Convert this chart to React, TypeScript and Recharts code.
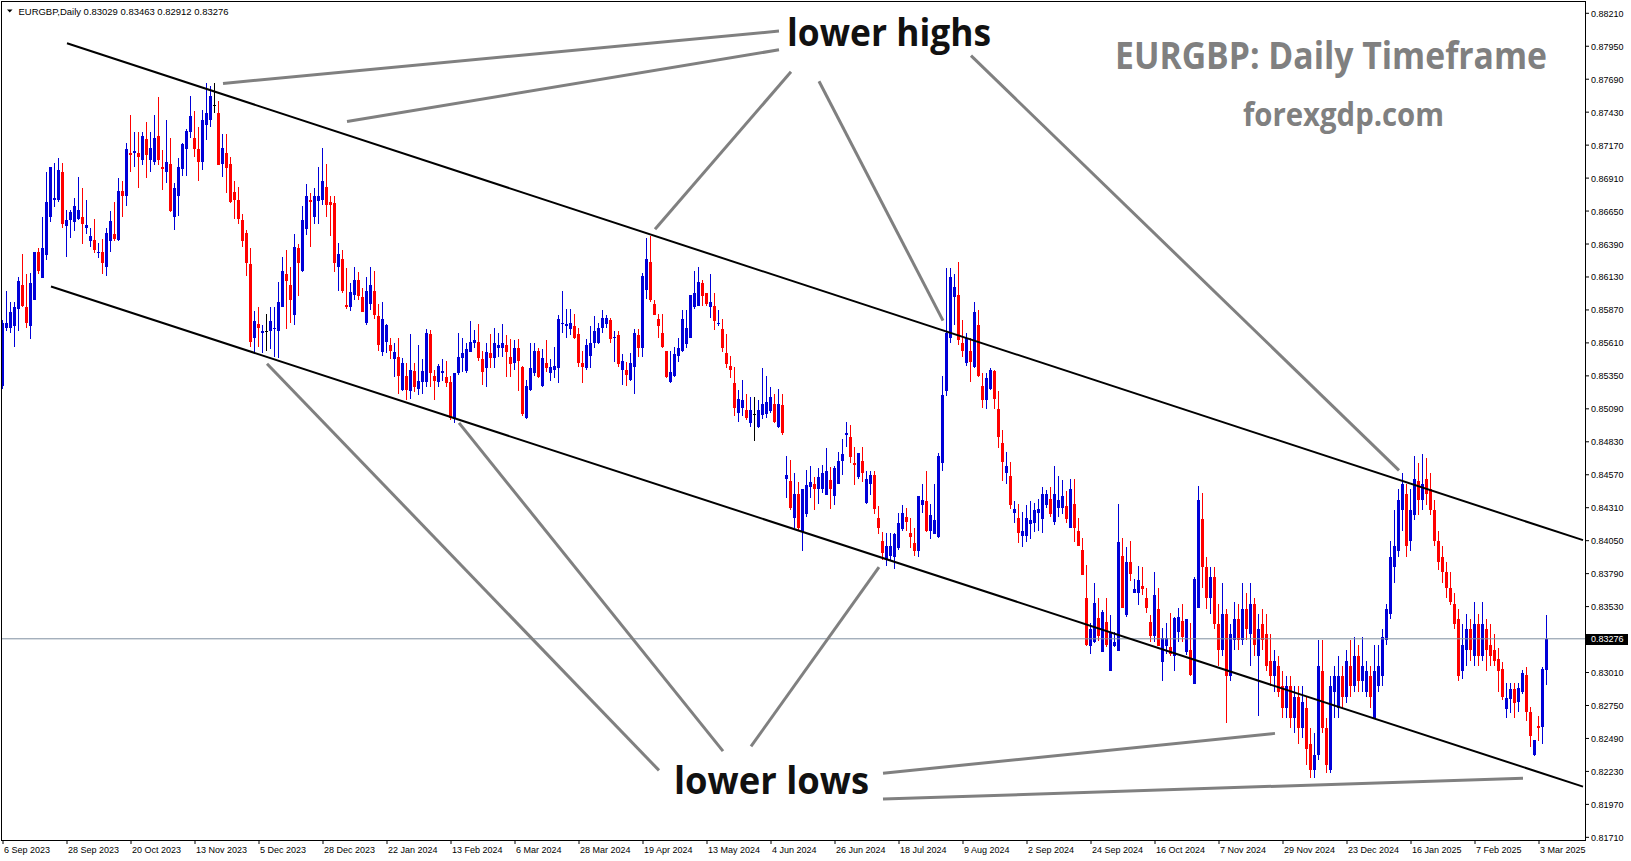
import { ComposedChart, Bar, XAxis, YAxis, ReferenceLine } from "recharts";

// EURGBP daily candles, 6 Sep 2023 .. 5 Mar 2025
const opens = [
  0.8527, 0.8573, 0.8573, 0.8574, 0.8588, 0.8607, 0.8589, 0.8574, 0.8595, 0.8633,
  0.8612, 0.8630, 0.8660, 0.8674, 0.8674, 0.8696, 0.8653, 0.8658, 0.8656, 0.8659,
  0.8660, 0.8652, 0.8641, 0.8642, 0.8632, 0.8633, 0.8621, 0.8641, 0.8647, 0.8642,
  0.8681, 0.8677, 0.8711, 0.8711, 0.8711, 0.8705, 0.8722, 0.8705, 0.8704, 0.8724,
  0.8700, 0.8696, 0.8702, 0.8660, 0.8677, 0.8698, 0.8714, 0.8727, 0.8723, 0.8714,
  0.8704, 0.8733, 0.8737, 0.8749, 0.8742, 0.8702, 0.8711, 0.8702, 0.8680, 0.8674,
  0.8658, 0.8648, 0.8623, 0.8565, 0.8576, 0.8569, 0.8570, 0.8570, 0.8572, 0.8570,
  0.8589, 0.8615, 0.8607, 0.8583, 0.8636, 0.8618, 0.8651, 0.8674, 0.8660, 0.8673,
  0.8674, 0.8684, 0.8672, 0.8671, 0.8621, 0.8627, 0.8591, 0.8589, 0.8599, 0.8611,
  0.8597, 0.8577, 0.8592, 0.8602, 0.8582, 0.8554, 0.8562, 0.8559, 0.8548, 0.8550,
  0.8524, 0.8535, 0.8523, 0.8539, 0.8525, 0.8530, 0.8530, 0.8568, 0.8535, 0.8530,
  0.8537, 0.8534, 0.8530, 0.8501, 0.8537, 0.8549, 0.8539, 0.8554, 0.8561, 0.8562,
  0.8548, 0.8541, 0.8553, 0.8549, 0.8557, 0.8557, 0.8559, 0.8550, 0.8545, 0.8557,
  0.8542, 0.8502, 0.8524, 0.8537, 0.8555, 0.8527, 0.8545, 0.8537, 0.8540, 0.8541,
  0.8576, 0.8574, 0.8572, 0.8574, 0.8568, 0.8545, 0.8541, 0.8551, 0.8561, 0.8561,
  0.8573, 0.8576, 0.8579, 0.8565, 0.8567, 0.8540, 0.8540, 0.8532, 0.8542, 0.8567,
  0.8557, 0.8603, 0.8625, 0.8592, 0.8580, 0.8569, 0.8555, 0.8530, 0.8535, 0.8551,
  0.8555, 0.8560, 0.8565, 0.8589, 0.8590, 0.8608, 0.8600, 0.8589, 0.8590, 0.8576,
  0.8572, 0.8553, 0.8543, 0.8529, 0.8506, 0.8510, 0.8508, 0.8498, 0.8505, 0.8495,
  0.8504, 0.8505, 0.8507, 0.8513, 0.8495, 0.8512, 0.8454, 0.8452, 0.8423, 0.8442,
  0.8412, 0.8426, 0.8447, 0.8450, 0.8446, 0.8446, 0.8441, 0.8453, 0.8440, 0.8450,
  0.8468, 0.8488, 0.8487, 0.8466, 0.8455, 0.8468, 0.8435, 0.8450, 0.8457, 0.8423,
  0.8405, 0.8390, 0.8393, 0.8392, 0.8399, 0.8414, 0.8424, 0.8411, 0.8403, 0.8397,
  0.8433, 0.8436, 0.8413, 0.8410, 0.8408, 0.8466, 0.8523, 0.8565, 0.8597, 0.8599,
  0.8561, 0.8545, 0.8555, 0.8542, 0.8575, 0.8527, 0.8516, 0.8525, 0.8539, 0.8509,
  0.8482, 0.8458, 0.8456, 0.8427, 0.8423, 0.8409, 0.8409, 0.8418, 0.8419, 0.8427,
  0.8422, 0.8433, 0.8438, 0.8420, 0.8431, 0.8431, 0.8432, 0.8415, 0.8434, 0.8413,
  0.8398, 0.8360, 0.8322, 0.8325, 0.8344, 0.8317, 0.8341, 0.8302, 0.8322, 0.8318,
  0.8393, 0.8346, 0.8388, 0.8364, 0.8364, 0.8369, 0.8360, 0.8341, 0.8330, 0.8351,
  0.8309, 0.8322, 0.8321, 0.8314, 0.8333, 0.8342, 0.8317, 0.8319, 0.8292, 0.8352,
  0.8422, 0.8384, 0.8360, 0.8376, 0.8339, 0.8319, 0.8347, 0.8298, 0.8327, 0.8343,
  0.8327, 0.8351, 0.8331, 0.8355, 0.8314, 0.8339, 0.8331, 0.8310, 0.8298, 0.8306,
  0.8290, 0.8273, 0.8290, 0.8265, 0.8282, 0.8257, 0.8273, 0.8245, 0.8224, 0.8236,
  0.8302, 0.8257, 0.8224, 0.8286, 0.8273, 0.8298, 0.8282, 0.8306, 0.8290, 0.8314,
  0.8294, 0.8286, 0.8298, 0.8265, 0.8290, 0.8298, 0.8327, 0.8347, 0.8384, 0.8397,
  0.8429, 0.8442, 0.8405, 0.8425, 0.8452, 0.8437, 0.8454, 0.8446, 0.8429, 0.8405,
  0.8392, 0.8380, 0.8368, 0.8355, 0.8343, 0.8302, 0.8319, 0.8335, 0.8314, 0.8339,
  0.8314, 0.8335, 0.8323, 0.8319, 0.8312, 0.8304, 0.8272, 0.8280, 0.8288, 0.8278,
  0.8286, 0.8299, 0.8270, 0.8236, 0.8259, 0.8258, 0.83029,
];

const highs = [
  0.8579, 0.8602, 0.8593, 0.8593, 0.8613, 0.8631, 0.8615, 0.8616, 0.8633, 0.8636,
  0.8660, 0.8696, 0.8700, 0.8703, 0.8707, 0.8703, 0.8666, 0.8666, 0.8675, 0.8692,
  0.8683, 0.8674, 0.8652, 0.8659, 0.8640, 0.8643, 0.8652, 0.8665, 0.8672, 0.8691,
  0.8689, 0.8719, 0.8741, 0.8727, 0.8727, 0.8727, 0.8735, 0.8727, 0.8741, 0.8755,
  0.8713, 0.8737, 0.8723, 0.8687, 0.8707, 0.8719, 0.8730, 0.8756, 0.8744, 0.8731,
  0.8745, 0.8766, 0.8764, 0.8766, 0.8752, 0.8726, 0.8726, 0.8708, 0.8689, 0.8684,
  0.8663, 0.8650, 0.8636, 0.8586, 0.8589, 0.8575, 0.8584, 0.8589, 0.8589, 0.8609,
  0.8629, 0.8634, 0.8621, 0.8647, 0.8639, 0.8669, 0.8686, 0.8679, 0.8683, 0.8700,
  0.8715, 0.8702, 0.8677, 0.8677, 0.8640, 0.8634, 0.8620, 0.8608, 0.8621, 0.8617,
  0.8604, 0.8613, 0.8621, 0.8618, 0.8592, 0.8593, 0.8576, 0.8565, 0.8561, 0.8565,
  0.8549, 0.8545, 0.8568, 0.8545, 0.8559, 0.8548, 0.8572, 0.8571, 0.8540, 0.8544,
  0.8548, 0.8547, 0.8535, 0.8537, 0.8569, 0.8565, 0.8561, 0.8578, 0.8571, 0.8576,
  0.8555, 0.8561, 0.8568, 0.8573, 0.8569, 0.8576, 0.8567, 0.8564, 0.8563, 0.8564,
  0.8543, 0.8532, 0.8561, 0.8561, 0.8557, 0.8556, 0.8563, 0.8548, 0.8558, 0.8583,
  0.8602, 0.8588, 0.8588, 0.8584, 0.8573, 0.8555, 0.8564, 0.8574, 0.8582, 0.8577,
  0.8587, 0.8583, 0.8581, 0.8570, 0.8570, 0.8552, 0.8546, 0.8553, 0.8572, 0.8572,
  0.8616, 0.8644, 0.8645, 0.8595, 0.8584, 0.8584, 0.8555, 0.8555, 0.8558, 0.8565,
  0.8587, 0.8587, 0.8599, 0.8618, 0.8621, 0.8611, 0.8600, 0.8615, 0.8600, 0.8587,
  0.8580, 0.8568, 0.8551, 0.8542, 0.8524, 0.8532, 0.8521, 0.8518, 0.8518, 0.8516,
  0.8541, 0.8535, 0.8526, 0.8521, 0.8525, 0.8521, 0.8472, 0.8469, 0.8458, 0.8451,
  0.8446, 0.8461, 0.8464, 0.8455, 0.8462, 0.8465, 0.8478, 0.8463, 0.8464, 0.8475,
  0.8485, 0.8499, 0.8496, 0.8479, 0.8474, 0.8479, 0.8460, 0.8460, 0.8460, 0.8432,
  0.8412, 0.8411, 0.8411, 0.8411, 0.8427, 0.8433, 0.8431, 0.8423, 0.8415, 0.8440,
  0.8450, 0.8460, 0.8434, 0.8450, 0.8474, 0.8535, 0.8620, 0.8620, 0.8615, 0.8625,
  0.8579, 0.8569, 0.8565, 0.8593, 0.8587, 0.8537, 0.8537, 0.8541, 0.8540, 0.8523,
  0.8492, 0.8475, 0.8467, 0.8436, 0.8434, 0.8428, 0.8433, 0.8436, 0.8435, 0.8438,
  0.8447, 0.8445, 0.8447, 0.8464, 0.8456, 0.8453, 0.8444, 0.8454, 0.8454, 0.8423,
  0.8407, 0.8386, 0.8340, 0.8372, 0.8360, 0.8350, 0.8360, 0.8346, 0.8333, 0.8434,
  0.8407, 0.8400, 0.8405, 0.8375, 0.8385, 0.8384, 0.8368, 0.8346, 0.8380, 0.8368,
  0.8336, 0.8340, 0.8348, 0.8345, 0.8352, 0.8355, 0.8343, 0.8340, 0.8376, 0.8448,
  0.8443, 0.8392, 0.8384, 0.8384, 0.8355, 0.8372, 0.8351, 0.8339, 0.8357, 0.8355,
  0.8372, 0.8364, 0.8372, 0.8360, 0.8347, 0.8351, 0.8347, 0.8331, 0.8319, 0.8314,
  0.8302, 0.8298, 0.8298, 0.8290, 0.8290, 0.8290, 0.8282, 0.8257, 0.8253, 0.8327,
  0.8327, 0.8265, 0.8298, 0.8306, 0.8314, 0.8306, 0.8319, 0.8327, 0.8329, 0.8323,
  0.8329, 0.8310, 0.8306, 0.8323, 0.8323, 0.8335, 0.8355, 0.8405, 0.8429, 0.8446,
  0.8458, 0.8450, 0.8446, 0.8472, 0.8466, 0.8473, 0.8470, 0.8458, 0.8437, 0.8413,
  0.8401, 0.8388, 0.8380, 0.8364, 0.8351, 0.8339, 0.8347, 0.8343, 0.8357, 0.8347,
  0.8357, 0.8343, 0.8339, 0.8331, 0.8320, 0.8309, 0.8293, 0.8293, 0.8293, 0.8293,
  0.8303, 0.8305, 0.8274, 0.8248, 0.8267, 0.8305, 0.83463,
];

const lows = [
  0.8525, 0.8570, 0.8569, 0.8558, 0.8570, 0.8589, 0.8573, 0.8564, 0.8595, 0.8615,
  0.8612, 0.8626, 0.8656, 0.8668, 0.8672, 0.8652, 0.8629, 0.8644, 0.8649, 0.8658,
  0.8639, 0.8647, 0.8637, 0.8632, 0.8628, 0.8615, 0.8614, 0.8633, 0.8641, 0.8641,
  0.8660, 0.8669, 0.8696, 0.8700, 0.8683, 0.8701, 0.8691, 0.8696, 0.8701, 0.8701,
  0.8682, 0.8687, 0.8664, 0.8650, 0.8661, 0.8693, 0.8693, 0.8723, 0.8708, 0.8689,
  0.8697, 0.8721, 0.8731, 0.8742, 0.8701, 0.8692, 0.8679, 0.8671, 0.8659, 0.8655,
  0.8637, 0.8614, 0.8558, 0.8554, 0.8558, 0.8553, 0.8555, 0.8556, 0.8550, 0.8549,
  0.8589, 0.8572, 0.8577, 0.8575, 0.8598, 0.8617, 0.8646, 0.8637, 0.8655, 0.8655,
  0.8670, 0.8660, 0.8645, 0.8617, 0.8602, 0.8600, 0.8588, 0.8586, 0.8595, 0.8595,
  0.8585, 0.8575, 0.8587, 0.8580, 0.8555, 0.8551, 0.8553, 0.8548, 0.8534, 0.8521,
  0.8523, 0.8516, 0.8517, 0.8522, 0.8520, 0.8521, 0.8526, 0.8526, 0.8516, 0.8526,
  0.8531, 0.8526, 0.8500, 0.8498, 0.8536, 0.8538, 0.8537, 0.8554, 0.8557, 0.8547,
  0.8528, 0.8526, 0.8541, 0.8541, 0.8550, 0.8550, 0.8534, 0.8534, 0.8540, 0.8523,
  0.8503, 0.8501, 0.8523, 0.8535, 0.8533, 0.8526, 0.8538, 0.8531, 0.8533, 0.8529,
  0.8569, 0.8565, 0.8567, 0.8564, 0.8542, 0.8529, 0.8540, 0.8541, 0.8557, 0.8560,
  0.8569, 0.8573, 0.8561, 0.8546, 0.8542, 0.8528, 0.8527, 0.8531, 0.8521, 0.8550,
  0.8550, 0.8596, 0.8593, 0.8583, 0.8565, 0.8557, 0.8533, 0.8529, 0.8534, 0.8546,
  0.8554, 0.8557, 0.8565, 0.8588, 0.8590, 0.8590, 0.8590, 0.8581, 0.8571, 0.8574,
  0.8554, 0.8541, 0.8533, 0.8503, 0.8499, 0.8503, 0.8500, 0.8495, 0.8484, 0.8494,
  0.8501, 0.8502, 0.8506, 0.8498, 0.8494, 0.8488, 0.8439, 0.8429, 0.8415, 0.8413,
  0.8397, 0.8424, 0.8439, 0.8429, 0.8434, 0.8443, 0.8441, 0.8430, 0.8433, 0.8450,
  0.8457, 0.8479, 0.8466, 0.8449, 0.8454, 0.8451, 0.8434, 0.8441, 0.8426, 0.8410,
  0.8390, 0.8385, 0.8389, 0.8383, 0.8398, 0.8413, 0.8413, 0.8399, 0.8393, 0.8392,
  0.8427, 0.8412, 0.8406, 0.8410, 0.8407, 0.8460, 0.8519, 0.8561, 0.8575, 0.8559,
  0.8550, 0.8543, 0.8530, 0.8541, 0.8534, 0.8510, 0.8509, 0.8524, 0.8509, 0.8478,
  0.8452, 0.8450, 0.8430, 0.8419, 0.8403, 0.8400, 0.8404, 0.8406, 0.8412, 0.8413,
  0.8411, 0.8431, 0.8424, 0.8417, 0.8424, 0.8426, 0.8419, 0.8415, 0.8404, 0.8401,
  0.8378, 0.8322, 0.8316, 0.8324, 0.8326, 0.8317, 0.8321, 0.8302, 0.8321, 0.8318,
  0.8352, 0.8345, 0.8373, 0.8364, 0.8354, 0.8362, 0.8348, 0.8325, 0.8325, 0.8322,
  0.8294, 0.8316, 0.8314, 0.8302, 0.8325, 0.8325, 0.8315, 0.8298, 0.8292, 0.8352,
  0.8368, 0.8351, 0.8347, 0.8335, 0.8306, 0.8314, 0.8261, 0.8294, 0.8319, 0.8319,
  0.8323, 0.8327, 0.8306, 0.8314, 0.8267, 0.8319, 0.8302, 0.8290, 0.8286, 0.8282,
  0.8265, 0.8265, 0.8257, 0.8253, 0.8245, 0.8249, 0.8228, 0.8218, 0.8218, 0.8232,
  0.8253, 0.8222, 0.8222, 0.8265, 0.8265, 0.8273, 0.8277, 0.8282, 0.8286, 0.8286,
  0.8286, 0.8282, 0.8273, 0.8264, 0.8286, 0.8290, 0.8323, 0.8343, 0.8372, 0.8392,
  0.8413, 0.8392, 0.8397, 0.8421, 0.8425, 0.8429, 0.8433, 0.8425, 0.8401, 0.8382,
  0.8372, 0.8360, 0.8354, 0.8335, 0.8294, 0.8296, 0.8306, 0.8310, 0.8306, 0.8306,
  0.8310, 0.8302, 0.8306, 0.8306, 0.8286, 0.8279, 0.8265, 0.8269, 0.8265, 0.8270,
  0.8284, 0.8263, 0.8242, 0.8235, 0.8247, 0.8245, 0.82912,
];

const closes = [
  0.8577, 0.8577, 0.8585, 0.8589, 0.8610, 0.8590, 0.8577, 0.8608, 0.8633, 0.8618,
  0.8636, 0.8672, 0.8700, 0.8675, 0.8697, 0.8655, 0.8658, 0.8664, 0.8669, 0.8666,
  0.8655, 0.8654, 0.8645, 0.8634, 0.8633, 0.8624, 0.8648, 0.8657, 0.8643, 0.8681,
  0.8677, 0.8714, 0.8709, 0.8712, 0.8708, 0.8724, 0.8709, 0.8715, 0.8723, 0.8705,
  0.8698, 0.8704, 0.8665, 0.8683, 0.8700, 0.8718, 0.8728, 0.8740, 0.8714, 0.8704,
  0.8737, 0.8742, 0.8756, 0.8749, 0.8701, 0.8715, 0.8699, 0.8672, 0.8674, 0.8659,
  0.8641, 0.8624, 0.8562, 0.8578, 0.8573, 0.8570, 0.8570, 0.8578, 0.8573, 0.8593,
  0.8618, 0.8610, 0.8595, 0.8637, 0.8624, 0.8658, 0.8677, 0.8672, 0.8677, 0.8677,
  0.8689, 0.8670, 0.8670, 0.8624, 0.8631, 0.8602, 0.8589, 0.8601, 0.8611, 0.8598,
  0.8585, 0.8602, 0.8607, 0.8583, 0.8559, 0.8580, 0.8575, 0.8555, 0.8554, 0.8535,
  0.8545, 0.8524, 0.8540, 0.8526, 0.8531, 0.8539, 0.8569, 0.8537, 0.8531, 0.8543,
  0.8539, 0.8529, 0.8502, 0.8537, 0.8550, 0.8553, 0.8556, 0.8562, 0.8563, 0.8549,
  0.8538, 0.8554, 0.8549, 0.8561, 0.8559, 0.8561, 0.8554, 0.8544, 0.8557, 0.8547,
  0.8505, 0.8527, 0.8541, 0.8555, 0.8534, 0.8549, 0.8541, 0.8542, 0.8543, 0.8580,
  0.8577, 0.8576, 0.8577, 0.8565, 0.8545, 0.8542, 0.8559, 0.8561, 0.8570, 0.8573,
  0.8581, 0.8581, 0.8564, 0.8566, 0.8544, 0.8547, 0.8536, 0.8545, 0.8569, 0.8557,
  0.8614, 0.8627, 0.8595, 0.8583, 0.8574, 0.8558, 0.8534, 0.8538, 0.8552, 0.8557,
  0.8580, 0.8573, 0.8599, 0.8600, 0.8609, 0.8598, 0.8592, 0.8593, 0.8578, 0.8577,
  0.8557, 0.8544, 0.8540, 0.8510, 0.8517, 0.8516, 0.8502, 0.8508, 0.8505, 0.8508,
  0.8513, 0.8514, 0.8518, 0.8499, 0.8513, 0.8490, 0.8457, 0.8431, 0.8442, 0.8415,
  0.8446, 0.8449, 0.8451, 0.8446, 0.8455, 0.8458, 0.8460, 0.8446, 0.8462, 0.8468,
  0.8473, 0.8490, 0.8471, 0.8465, 0.8474, 0.8458, 0.8454, 0.8457, 0.8430, 0.8415,
  0.8395, 0.8401, 0.8401, 0.8410, 0.8419, 0.8427, 0.8420, 0.8408, 0.8397, 0.8440,
  0.8437, 0.8413, 0.8425, 0.8421, 0.8472, 0.8520, 0.8569, 0.8613, 0.8605, 0.8563,
  0.8555, 0.8565, 0.8546, 0.8585, 0.8535, 0.8516, 0.8533, 0.8540, 0.8517, 0.8487,
  0.8467, 0.8464, 0.8433, 0.8430, 0.8411, 0.8413, 0.8423, 0.8421, 0.8429, 0.8430,
  0.8442, 0.8442, 0.8426, 0.8442, 0.8437, 0.8440, 0.8422, 0.8446, 0.8415, 0.8401,
  0.8378, 0.8323, 0.8335, 0.8356, 0.8330, 0.8349, 0.8323, 0.8333, 0.8325, 0.8404,
  0.8352, 0.8388, 0.8379, 0.8367, 0.8374, 0.8367, 0.8352, 0.8330, 0.8362, 0.8322,
  0.8328, 0.8328, 0.8316, 0.8344, 0.8345, 0.8329, 0.8343, 0.8299, 0.8375, 0.8437,
  0.8384, 0.8360, 0.8376, 0.8339, 0.8319, 0.8347, 0.8298, 0.8331, 0.8343, 0.8327,
  0.8351, 0.8335, 0.8355, 0.8323, 0.8335, 0.8327, 0.8306, 0.8298, 0.8310, 0.8286,
  0.8273, 0.8290, 0.8265, 0.8282, 0.8257, 0.8278, 0.8241, 0.8224, 0.8236, 0.8306,
  0.8257, 0.8228, 0.8290, 0.8298, 0.8298, 0.8282, 0.8310, 0.8290, 0.8314, 0.8294,
  0.8306, 0.8302, 0.8282, 0.8302, 0.8306, 0.8329, 0.8351, 0.8392, 0.8401, 0.8437,
  0.8450, 0.8401, 0.8429, 0.8454, 0.8437, 0.8450, 0.8442, 0.8429, 0.8405, 0.8388,
  0.8380, 0.8368, 0.8357, 0.8339, 0.8298, 0.8323, 0.8335, 0.8319, 0.8339, 0.8314,
  0.8339, 0.8319, 0.8314, 0.8310, 0.8302, 0.8282, 0.8281, 0.8288, 0.8277, 0.8289,
  0.8301, 0.8270, 0.8251, 0.8248, 0.8257, 0.8304, 0.83276,
];

// MT4 prints a date every 16 bars
const dateLabels = [
  "6 Sep 2023", "28 Sep 2023", "20 Oct 2023", "13 Nov 2023", "5 Dec 2023", "28 Dec 2023",
  "22 Jan 2024", "13 Feb 2024", "6 Mar 2024", "28 Mar 2024", "19 Apr 2024", "13 May 2024",
  "4 Jun 2024", "26 Jun 2024", "18 Jul 2024", "9 Aug 2024", "2 Sep 2024", "24 Sep 2024",
  "16 Oct 2024", "7 Nov 2024", "29 Nov 2024", "23 Dec 2024", "16 Jan 2025", "7 Feb 2025",
  "3 Mar 2025",
];
const LABEL_STEP = 16;

const priceTicks = [
  0.8171, 0.8197, 0.8223, 0.8249, 0.8275, 0.8301, 0.8353, 0.8379, 0.8405, 0.8431,
  0.8457, 0.8483, 0.8509, 0.8535, 0.8561, 0.8587, 0.8613, 0.8639, 0.8665, 0.8691,
  0.8717, 0.8743, 0.8769, 0.8795, 0.8821,
];

// channel lines (bar index, price)
const upperChannel = [{ x: 16, y: 0.87974 }, { x: 395, y: 0.84054 }];
const lowerChannel = [{ x: 12, y: 0.86055 }, { x: 395, y: 0.8211 }];

// grey pointer lines from the captions to the swing points
const pointerLines = [
  [{ x: 55, y: 0.87657 }, { x: 194, y: 0.8807 }],
  [{ x: 86, y: 0.87357 }, { x: 194, y: 0.87922 }],
  [{ x: 163, y: 0.86506 }, { x: 197, y: 0.87749 }],
  [{ x: 235, y: 0.85786 }, { x: 204, y: 0.87674 }],
  [{ x: 349, y: 0.84605 }, { x: 242, y: 0.87876 }],
  [{ x: 66, y: 0.85446 }, { x: 164, y: 0.82238 }],
  [{ x: 114, y: 0.84979 }, { x: 180, y: 0.8239 }],
  [{ x: 219, y: 0.83841 }, { x: 187, y: 0.82427 }],
  [{ x: 220, y: 0.82216 }, { x: 318, y: 0.8253 }],
  [{ x: 220, y: 0.82012 }, { x: 380, y: 0.82177 }],
];

const TOTAL_SLOTS = 396; // empty space on the right like MT4
const W = 1631;
const H = 861;
const FONT = "'Liberation Sans', Arial, sans-serif";

const data = Array.from({ length: TOTAL_SLOTS }, (_, i) =>
  i < opens.length
    ? { i, o: opens[i], h: highs[i], l: lows[i], c: closes[i], range: [lows[i], highs[i]] }
    : { i, range: null }
);

const lastClose = closes[closes.length - 1];

function Candle(props: any) {
  const p = props.payload || props;
  if (!p || p.range == null) return null;
  const top = Math.min(props.y, props.y + props.height);
  const h = Math.abs(props.height);
  const toY = (v: number) => (p.h === p.l ? top : top + ((p.h - v) / (p.h - p.l)) * h);
  const cx = Math.floor(props.x + props.width / 2 + 0.01);
  const color = p.c > p.o ? "#0000d8" : p.c < p.o ? "#ff0000" : "#000000";
  const wt = Math.round(top);
  const wb = Math.round(top + h);
  const yo = toY(p.o);
  const yc = toY(p.c);
  const bt = Math.round(Math.min(yo, yc));
  const bb = Math.round(Math.max(yo, yc));
  return (
    <g>
      <rect x={cx} y={wt} width={1} height={Math.max(1, wb - wt)} fill={color} />
      <rect x={cx - 1} y={bt} width={3} height={Math.max(1, bb - bt)} fill={color} />
    </g>
  );
}

function PriceTick(props: any) {
  const { x, y, payload } = props;
  return (
    <text x={x} y={y} dy={3.5} fontSize={9} fontFamily={FONT} fill="#000">
      {payload.value.toFixed(5)}
    </text>
  );
}

function DateTick(props: any) {
  const { x, y, payload } = props;
  const label = dateLabels[payload.value / LABEL_STEP];
  return (
    <text x={x + 1} y={y + 9} fontSize={9} fontFamily={FONT} fill="#000">
      {label}
    </text>
  );
}

function PriceTag(props: any) {
  const vb = props.viewBox;
  if (!vb) return null;
  const x = vb.x + vb.width;
  return (
    <g>
      <rect x={x + 1} y={Math.round(vb.y) - 5} width={42} height={11} fill="#000" />
      <text x={x + 6} y={vb.y + 3.5} fontSize={9} fontFamily={FONT} fill="#fff">
        {lastClose.toFixed(5)}
      </text>
    </g>
  );
}

export default function App() {
  const dateTicks = dateLabels.map((_, k) => k * LABEL_STEP);
  return (
    <div style={{ position: "absolute", left: 0, top: 0, width: W, height: H, background: "#fff" }}>
      <ComposedChart width={W} height={H} data={data} margin={{ top: 2, right: 0, bottom: 0, left: 1 }}>
        <XAxis
          dataKey="i"
          ticks={dateTicks}
          interval={0}
          tick={<DateTick />}
          tickSize={4}
          tickMargin={0}
          tickLine={{ stroke: "#000" }}
          axisLine={false}
          height={21}
        />
        <YAxis
          orientation="right"
          width={46}
          type="number"
          domain={[0.81689, 0.88299]}
          allowDataOverflow
          ticks={priceTicks}
          interval={0}
          tick={<PriceTick />}
          tickSize={4}
          tickMargin={2}
          tickLine={{ stroke: "#000" }}
          axisLine={false}
        />
        <ReferenceLine y={lastClose} stroke="#7f8fa0" strokeWidth={1} ifOverflow="visible" label={<PriceTag />} />
        <Bar dataKey="range" shape={<Candle />} isAnimationActive={false} />
        <ReferenceLine segment={upperChannel} stroke="#000" strokeWidth={2} ifOverflow="visible" />
        <ReferenceLine segment={lowerChannel} stroke="#000" strokeWidth={2} ifOverflow="visible" />
        {pointerLines.map((seg, k) => (
          <ReferenceLine key={k} segment={seg} stroke="#808080" strokeWidth={3} ifOverflow="visible" />
        ))}
      </ComposedChart>

      <svg width={W} height={H} style={{ position: "absolute", left: 0, top: 0, pointerEvents: "none" }}>
        <rect x={1.5} y={1.5} width={1584} height={839} fill="none" stroke="#000" />
        <polygon points="7,9.5 12.5,9.5 9.75,12.5" fill="#000" />
        <text x={18.5} y={14.5} fontSize={9} fontFamily={FONT} fill="#000" textLength={210} lengthAdjust="spacingAndGlyphs">
          {`EURGBP,Daily  ${opens[opens.length - 1].toFixed(5)} ${highs[highs.length - 1].toFixed(5)} ${lows[lows.length - 1].toFixed(5)} ${lastClose.toFixed(5)}`}
        </text>
        <g fontFamily="'Open Sans', 'DejaVu Sans', sans-serif" fontWeight={700}>
          <text x={787} y={46} fontSize={38} fill="#111" textLength={204} lengthAdjust="spacingAndGlyphs">lower highs</text>
          <text x={674} y={794} fontSize={38} fill="#111" textLength={195} lengthAdjust="spacingAndGlyphs">lower lows</text>
          <text x={1115} y={68.5} fontSize={37} fill="#808080" textLength={432} lengthAdjust="spacingAndGlyphs">EURGBP: Daily Timeframe</text>
          <text x={1243} y={126} fontSize={32} fill="#808080" textLength={201} lengthAdjust="spacingAndGlyphs">forexgdp.com</text>
        </g>
      </svg>
    </div>
  );
}
